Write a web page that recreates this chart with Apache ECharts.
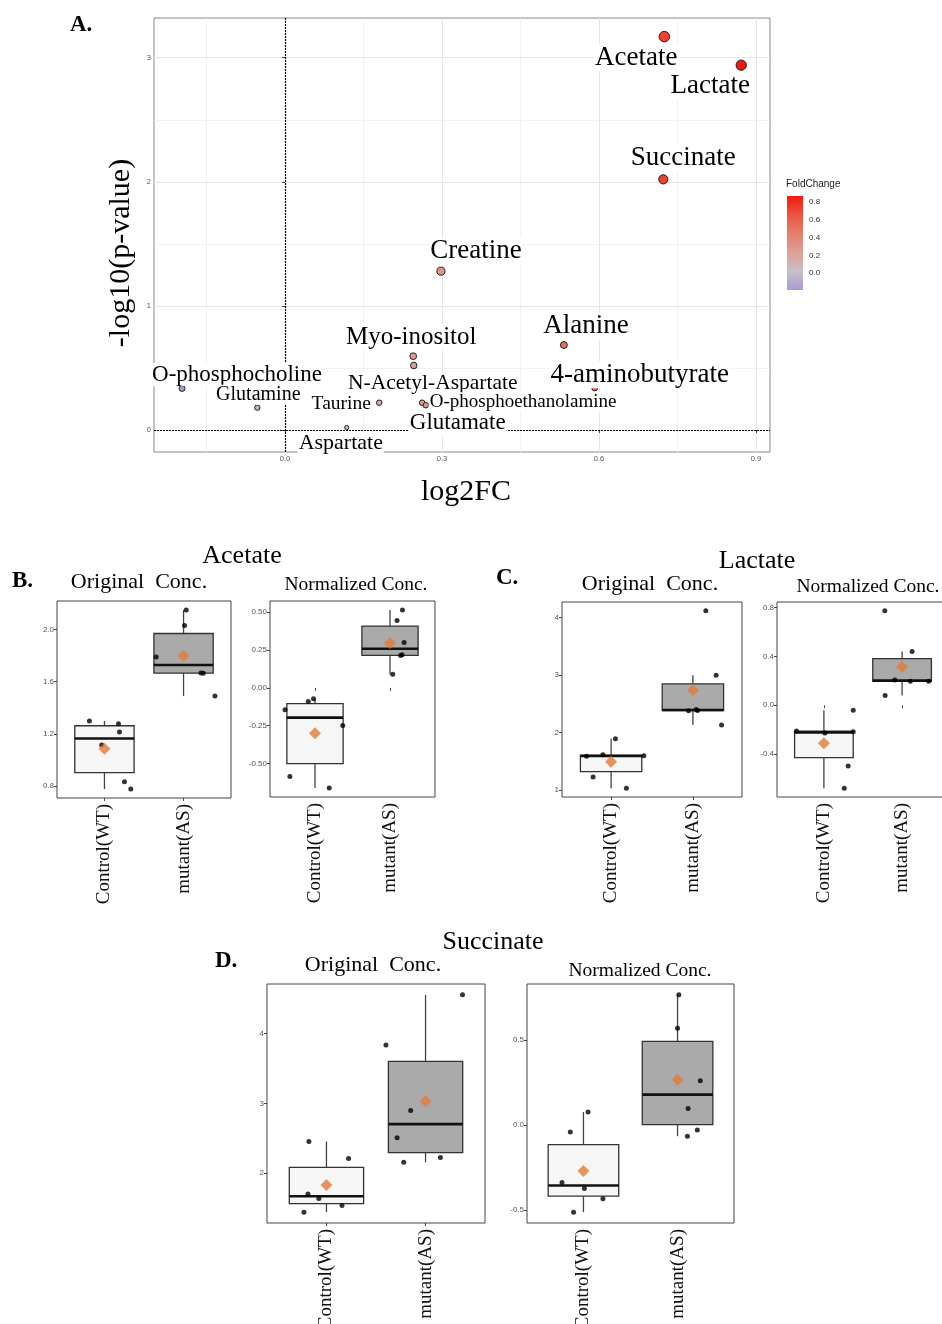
<!DOCTYPE html>
<html><head><meta charset="utf-8">
<script src="https://cdn.jsdelivr.net/npm/echarts@6/dist/echarts.min.js"></script>
<style>html,body{margin:0;padding:0;background:#fff}#c{width:942px;height:1324px}</style>
</head><body><div id="c"></div>
<script>
// ---------------- Panel A : volcano data ----------------
const metabolites = ['Acetate','Lactate','Succinate','Creatine','Alanine','Myo-inositol','N-Acetyl-Aspartate','4-aminobutyrate','O-phosphocholine','Glutamine','Taurine','O-phosphoethanolamine','Glutamate','Aspartate'];
const log2FC    = [0.725, 0.872, 0.723, 0.298, 0.533, 0.245, 0.246, 0.592, -0.197, -0.053, 0.180, 0.262, 0.269, 0.118];
const negLog10P = [3.17, 2.94, 2.02, 1.28, 0.685, 0.595, 0.52, 0.34, 0.335, 0.18, 0.22, 0.22, 0.20, 0.02];
const xTicksA = [0, 0.3, 0.6, 0.9];
const xMinorA = [-0.15, 0.15, 0.45, 0.75];
const yTicksA = [0, 1, 2, 3];
const yMinorA = [0.5, 1.5, 2.5];
const fcTicks = [0, 0.2, 0.4, 0.6, 0.8];

// ---------------- Panels B-D : box plot data ----------------
const groups = ['Control(WT)', 'mutant(AS)'];

const acetateOrigWT    = [1.299, 1.279, 1.215, 1.116, 0.834, 0.778];
const acetateOrigWTJit = [-0.19, 0.177, 0.19, -0.034, 0.253, 0.333];
const acetateOrigAS    = [2.150, 2.030, 1.789, 1.667, 1.665, 1.490];
const acetateOrigASJit = [0.034, 0.013, -0.346, 0.22, 0.25, 0.397];
const acetateOrigTicks = [0.8, 1.2, 1.6, 2.0];
const acetateOrigTickLabels = ['0.8', '1.2', '1.6', '2.0'];

const acetateNormWT    = [-0.144, -0.090, -0.072, -0.249, -0.585, -0.662];
const acetateNormWTJit = [-0.40, -0.09, -0.02, 0.37, -0.335, 0.19];
const acetateNormAS    = [0.515, 0.445, 0.299, 0.218, 0.214, 0.090];
const acetateNormASJit = [0.166, 0.094, 0.188, 0.161, 0.14, 0.036];
const acetateNormTicks = [-0.5, -0.25, 0, 0.25, 0.5];
const acetateNormTickLabels = ['-0.50', '-0.25', '0.00', '0.25', '0.50'];

const lactateOrigWT    = [1.590, 1.613, 1.596, 1.894, 1.229, 1.034];
const lactateOrigWTJit = [-0.30, -0.10, 0.40, 0.053, -0.22, 0.187];
const lactateOrigAS    = [4.115, 2.996, 2.378, 2.400, 2.385, 2.130];
const lactateOrigASJit = [0.158, 0.284, -0.053, 0.04, 0.057, 0.35];
const lactateOrigTicks = [1, 2, 3, 4];
const lactateOrigTickLabels = ['1', '2', '3', '4'];

const lactateNormWT    = [-0.210, -0.227, -0.218, -0.042, -0.497, -0.679];
const lactateNormWTJit = [-0.35, 0.013, 0.375, 0.375, 0.31, 0.26];
const lactateNormAS    = [0.773, 0.440, 0.207, 0.196, 0.196, 0.080];
const lactateNormASJit = [-0.221, 0.128, -0.094, 0.106, 0.34, -0.217];
const lactateNormTicks = [-0.4, 0, 0.4, 0.8];
const lactateNormTickLabels = ['-0.4', '0.0', '0.4', '0.8'];

const succOrigWT    = [2.452, 2.207, 1.697, 1.635, 1.534, 1.438];
const succOrigWTJit = [-0.177, 0.223, -0.187, -0.077, 0.157, -0.227];
const succOrigAS    = [4.558, 3.837, 2.899, 2.505, 2.154, 2.221];
const succOrigASJit = [0.373, -0.40, -0.15, -0.287, -0.22, 0.15];
const succOrigTicks = [2, 3, 4];
const succOrigTickLabels = ['2', '3', '4'];

const succNormWT    = [0.078, -0.041, -0.337, -0.373, -0.433, -0.512];
const succNormWTJit = [0.049, -0.14, -0.228, 0.01, 0.207, -0.105];
const succNormAS    = [0.767, 0.571, 0.261, 0.098, -0.029, -0.065];
const succNormASJit = [0.014, 0.0, 0.242, 0.112, 0.21, 0.105];
const succNormTicks = [-0.5, 0, 0.5];
const succNormTickLabels = ['-0.5', '0.0', '0.5'];

// ---------------- styling / layout ----------------
const SERIF = '"Liberation Serif", "Times New Roman", serif';
const SANS = '"Liberation Sans", Arial, sans-serif';
const FC_COLORS = ['#a99ad6', '#c9c0c8', '#dca096', '#e57f6c', '#ec5440', '#f21a10'];
const FC_MIN = -0.19, FC_MAX = 0.87;

// label offsets [dx, dy, fontSize] (style only)
const labelLayoutA = {
  'Acetate': [-28, 21, 27], 'Lactate': [-31, 21, 27], 'Succinate': [20, -21, 27],
  'Creatine': [35, -20, 27], 'Alanine': [22, -19, 27], 'Myo-inositol': [-2, -19, 25],
  'N-Acetyl-Aspartate': [19, 18, 21.5], '4-aminobutyrate': [45, -13, 27],
  'O-phosphocholine': [55, -14, 23], 'Glutamine': [1, -13, 20], 'Taurine': [-38, 1, 19.5],
  'O-phosphoethanolamine': [101, -1, 19], 'Glutamate': [32, 18, 23], 'Aspartate': [-6, 16, 22]
};

const grids = [
  {left: 154, top: 18, width: 616, height: 434, show: true, borderColor: '#8a8a8a', borderWidth: 1},
  {left: 787, top: 196, width: 16, height: 94, show: false},
  {left: 57, top: 601, width: 174, height: 197},
  {left: 270, top: 601, width: 165, height: 196},
  {left: 562, top: 602, width: 180, height: 195},
  {left: 777, top: 602, width: 172, height: 195},
  {left: 267, top: 984, width: 218, height: 239},
  {left: 527, top: 984, width: 207, height: 239}
].map(g => Object.assign({show: true, borderColor: '#444', borderWidth: 1, outerBoundsMode: 'none', containLabel: false}, g));

const panels = [
  [acetateOrigWT, acetateOrigWTJit, acetateOrigAS, acetateOrigASJit, acetateOrigTicks, acetateOrigTickLabels],
  [acetateNormWT, acetateNormWTJit, acetateNormAS, acetateNormASJit, acetateNormTicks, acetateNormTickLabels],
  [lactateOrigWT, lactateOrigWTJit, lactateOrigAS, lactateOrigASJit, lactateOrigTicks, lactateOrigTickLabels],
  [lactateNormWT, lactateNormWTJit, lactateNormAS, lactateNormASJit, lactateNormTicks, lactateNormTickLabels],
  [succOrigWT, succOrigWTJit, succOrigAS, succOrigASJit, succOrigTicks, succOrigTickLabels],
  [succNormWT, succNormWTJit, succNormAS, succNormASJit, succNormTicks, succNormTickLabels]
];

function quantile(s, p) {
  const h = (s.length - 1) * p, lo = Math.floor(h);
  const hiV = s[Math.min(lo + 1, s.length - 1)];
  return s[lo] + (h - lo) * (hiV - s[lo]);
}
function boxStats(vals) {
  const s = vals.slice().sort((a, b) => a - b);
  const q1 = quantile(s, 0.25), med = quantile(s, 0.5), q3 = quantile(s, 0.75);
  const iqr = q3 - q1;
  const lo = Math.min.apply(null, s.filter(v => v >= q1 - 1.5 * iqr));
  const hi = Math.max.apply(null, s.filter(v => v <= q3 + 1.5 * iqr));
  const mean = s.reduce((a, b) => a + b, 0) / s.length;
  return {lo, q1, med, q3, hi, mean};
}

const BOX_FILL = ['#f6f6f6', '#aaaaaa'];
function renderBox(params, api) {
  const x = api.value(0);
  const lo = api.coord([x, api.value(1)]), q1 = api.coord([x, api.value(2)]);
  const md = api.coord([x, api.value(3)]), q3 = api.coord([x, api.value(4)]);
  const hi = api.coord([x, api.value(5)]);
  const hw = api.size([0.75, 0])[0] / 2;
  return {type: 'group', children: [
    {type: 'line', shape: {x1: lo[0], y1: lo[1], x2: q1[0], y2: q1[1]}, style: {stroke: '#444', lineWidth: 1.3}},
    {type: 'line', shape: {x1: q3[0], y1: q3[1], x2: hi[0], y2: hi[1]}, style: {stroke: '#444', lineWidth: 1.3}},
    {type: 'rect', shape: {x: q1[0] - hw, y: q3[1], width: 2 * hw, height: q1[1] - q3[1]},
      style: {fill: BOX_FILL[params.dataIndex], stroke: '#333', lineWidth: 1.3}},
    {type: 'line', shape: {x1: md[0] - hw, y1: md[1], x2: md[0] + hw, y2: md[1]}, style: {stroke: '#111', lineWidth: 2.6}}
  ]};
}

const xAxes = [], yAxes = [], series = [];

// ---- Panel A axes
xAxes.push({gridIndex: 0, type: 'value', min: -0.2505, max: 0.927,
  axisLine: {show: false},
  axisTick: {customValues: xTicksA, length: 3, lineStyle: {color: '#444'}},
  axisLabel: {customValues: xTicksA, formatter: v => v.toFixed(1), fontSize: 7.5, color: '#555', margin: 3, fontFamily: SANS},
  splitLine: {show: true, lineStyle: {color: '#e6e6e6', width: 1}}});
xAxes.push({gridIndex: 0, type: 'value', min: -0.2505, max: 0.927, position: 'bottom',
  axisLine: {show: false}, axisTick: {show: false, customValues: xMinorA}, axisLabel: {show: false, customValues: xMinorA},
  splitLine: {show: true, lineStyle: {color: '#eeeeee', width: 0.8}}});
yAxes.push({gridIndex: 0, type: 'value', min: -0.177, max: 3.32,
  axisLine: {show: false},
  axisTick: {customValues: yTicksA, length: 3, lineStyle: {color: '#444'}},
  axisLabel: {customValues: yTicksA, formatter: v => String(v), fontSize: 7.5, color: '#555', margin: 3, fontFamily: SANS},
  splitLine: {show: true, lineStyle: {color: '#e6e6e6', width: 1}}});
yAxes.push({gridIndex: 0, type: 'value', min: -0.177, max: 3.32, position: 'left',
  axisLine: {show: false}, axisTick: {show: false, customValues: yMinorA}, axisLabel: {show: false, customValues: yMinorA},
  splitLine: {show: true, lineStyle: {color: '#eeeeee', width: 0.8}}});

series.push({
  type: 'scatter', xAxisIndex: 0, yAxisIndex: 0, z: 5,
  data: metabolites.map((n, i) => {
    const L = labelLayoutA[n];
    return {name: n, value: [log2FC[i], negLog10P[i]], label: {offset: [L[0], L[1]], fontSize: L[2]}};
  }),
  symbolSize: v => 3.8 + 3.8 * Math.sqrt(Math.max(v[1], 0)),
  itemStyle: {borderColor: '#111', borderWidth: 0.9, opacity: 1},
  label: {show: true, formatter: '{b}', position: 'inside', fontFamily: SERIF, color: '#000',
    backgroundColor: '#fff', padding: [0, 1]},
  emphasis: {disabled: true},
  markLine: {silent: true, symbol: 'none', label: {show: false}, animation: false,
    lineStyle: {color: '#000', type: [2, 1], width: 1.2},
    data: [{xAxis: 0}, {yAxis: 0}]}
});

// ---- Legend (FoldChange colourbar)
xAxes.push({gridIndex: 1, type: 'value', min: 0, max: 1, show: false});
yAxes.push({gridIndex: 1, type: 'value', min: FC_MIN, max: FC_MAX, position: 'right', z: 10,
  axisLine: {show: false}, splitLine: {show: false},
  axisTick: {customValues: fcTicks, inside: true, length: 3, lineStyle: {color: '#fff', width: 1}},
  axisLabel: {customValues: fcTicks, formatter: v => v.toFixed(1), fontSize: 8, color: '#333', margin: 6, fontFamily: SANS}});
series.push({
  type: 'line', xAxisIndex: 2, yAxisIndex: 2, data: [[0.5, 0]], showSymbol: false, lineStyle: {width: 0}, silent: true,
  markArea: {silent: true, itemStyle: {color: {type: 'linear', x: 0, y: 1, x2: 0, y2: 0,
    colorStops: FC_COLORS.map((c, i) => ({offset: i / (FC_COLORS.length - 1), color: c}))}},
    data: [[{yAxis: FC_MIN, xAxis: 0}, {yAxis: FC_MAX, xAxis: 1}]]}
});

// ---- Box panels
panels.forEach((p, k) => {
  const [wt, wtJ, as, asJ, ticks, tickLabels] = p;
  const gi = k + 2;
  const all = wt.concat(as);
  const dMin = Math.min.apply(null, all), dMax = Math.max.apply(null, all);
  const pad = 0.05 * (dMax - dMin);
  xAxes.push({gridIndex: gi, type: 'value', min: 0.4, max: 2.6,
    axisLine: {show: false}, splitLine: {show: false},
    axisTick: {customValues: [1, 2], length: 3, lineStyle: {color: '#444'}},
    axisLabel: {customValues: [1, 2], formatter: v => groups[Math.round(v) - 1], rotate: 90,
      fontFamily: SERIF, fontSize: 19, color: '#111', margin: 6}});
  yAxes.push({gridIndex: gi, type: 'value', min: dMin - pad, max: dMax + pad,
    axisLine: {show: false}, splitLine: {show: false},
    axisTick: {customValues: ticks, length: 3, lineStyle: {color: '#444'}},
    axisLabel: {customValues: ticks, formatter: v => tickLabels[ticks.findIndex(t => Math.abs(t - v) < 1e-9)],
      fontSize: 8, color: '#555', margin: 3, fontFamily: SANS}});
  const ax = xAxes.length - 1, ay = yAxes.length - 1;
  const sW = boxStats(wt), sA = boxStats(as);
  series.push({type: 'custom', xAxisIndex: ax, yAxisIndex: ay, renderItem: renderBox, silent: true, z: 2,
    encode: {x: 0, y: [1, 2, 3, 4, 5]},
    data: [[1, sW.lo, sW.q1, sW.med, sW.q3, sW.hi], [2, sA.lo, sA.q1, sA.med, sA.q3, sA.hi]]});
  series.push({type: 'scatter', xAxisIndex: ax, yAxisIndex: ay, symbolSize: 5, silent: true, z: 3,
    itemStyle: {color: '#000'},
    data: wt.map((v, i) => [1 + wtJ[i], v]).concat(as.map((v, i) => [2 + asJ[i], v]))});
  series.push({type: 'scatter', xAxisIndex: ax, yAxisIndex: ay, symbol: 'diamond', symbolSize: 12, silent: true, z: 4,
    itemStyle: {color: '#e27c37'},
    data: [[1, sW.mean], [2, sA.mean]]});
});

// ---- texts
function txt(t, x, y, size, opts) {
  opts = opts || {};
  return {type: 'text', x: x, y: y, rotation: opts.rot || 0, silent: true, z: 100,
    style: {text: t, font: (opts.bold ? 'bold ' : '') + size + 'px ' + (opts.font || SERIF),
      fill: opts.color || '#000', align: opts.align || 'center', verticalAlign: 'middle'}};
}
const graphics = [
  txt('A.', 70, 25, 23, {bold: true, align: 'left'}),
  txt('-log10(p-value)', 121, 253, 30, {rot: Math.PI / 2}),
  txt('log2FC', 466, 492, 30),
  txt('FoldChange', 786, 184, 10, {font: SANS, align: 'left', color: '#222'}),
  txt('Acetate', 242, 556, 26),
  txt('B.', 12, 581, 23, {bold: true, align: 'left'}),
  txt('Original  Conc.', 139, 582, 22),
  txt('Normalized Conc.', 356, 585, 19.5),
  txt('Lactate', 757, 561, 26),
  txt('C.', 496, 578, 23, {bold: true, align: 'left'}),
  txt('Original  Conc.', 650, 584, 22),
  txt('Normalized Conc.', 868, 587, 19.5),
  txt('Succinate', 493, 942, 26),
  txt('D.', 215, 961, 23, {bold: true, align: 'left'}),
  txt('Original  Conc.', 373, 965, 22),
  txt('Normalized Conc.', 640, 971, 19.5)
];

const chart = echarts.init(document.getElementById('c'), null, {renderer: 'canvas'});
chart.setOption({
  backgroundColor: '#fff',
  animation: false,
  textStyle: {fontFamily: SERIF},
  grid: grids,
  xAxis: xAxes,
  yAxis: yAxes,
  visualMap: {type: 'continuous', show: false, seriesIndex: 0, dimension: 0, min: FC_MIN, max: FC_MAX,
    inRange: {color: FC_COLORS}},
  series: series,
  graphic: graphics
});
</script></body></html>
